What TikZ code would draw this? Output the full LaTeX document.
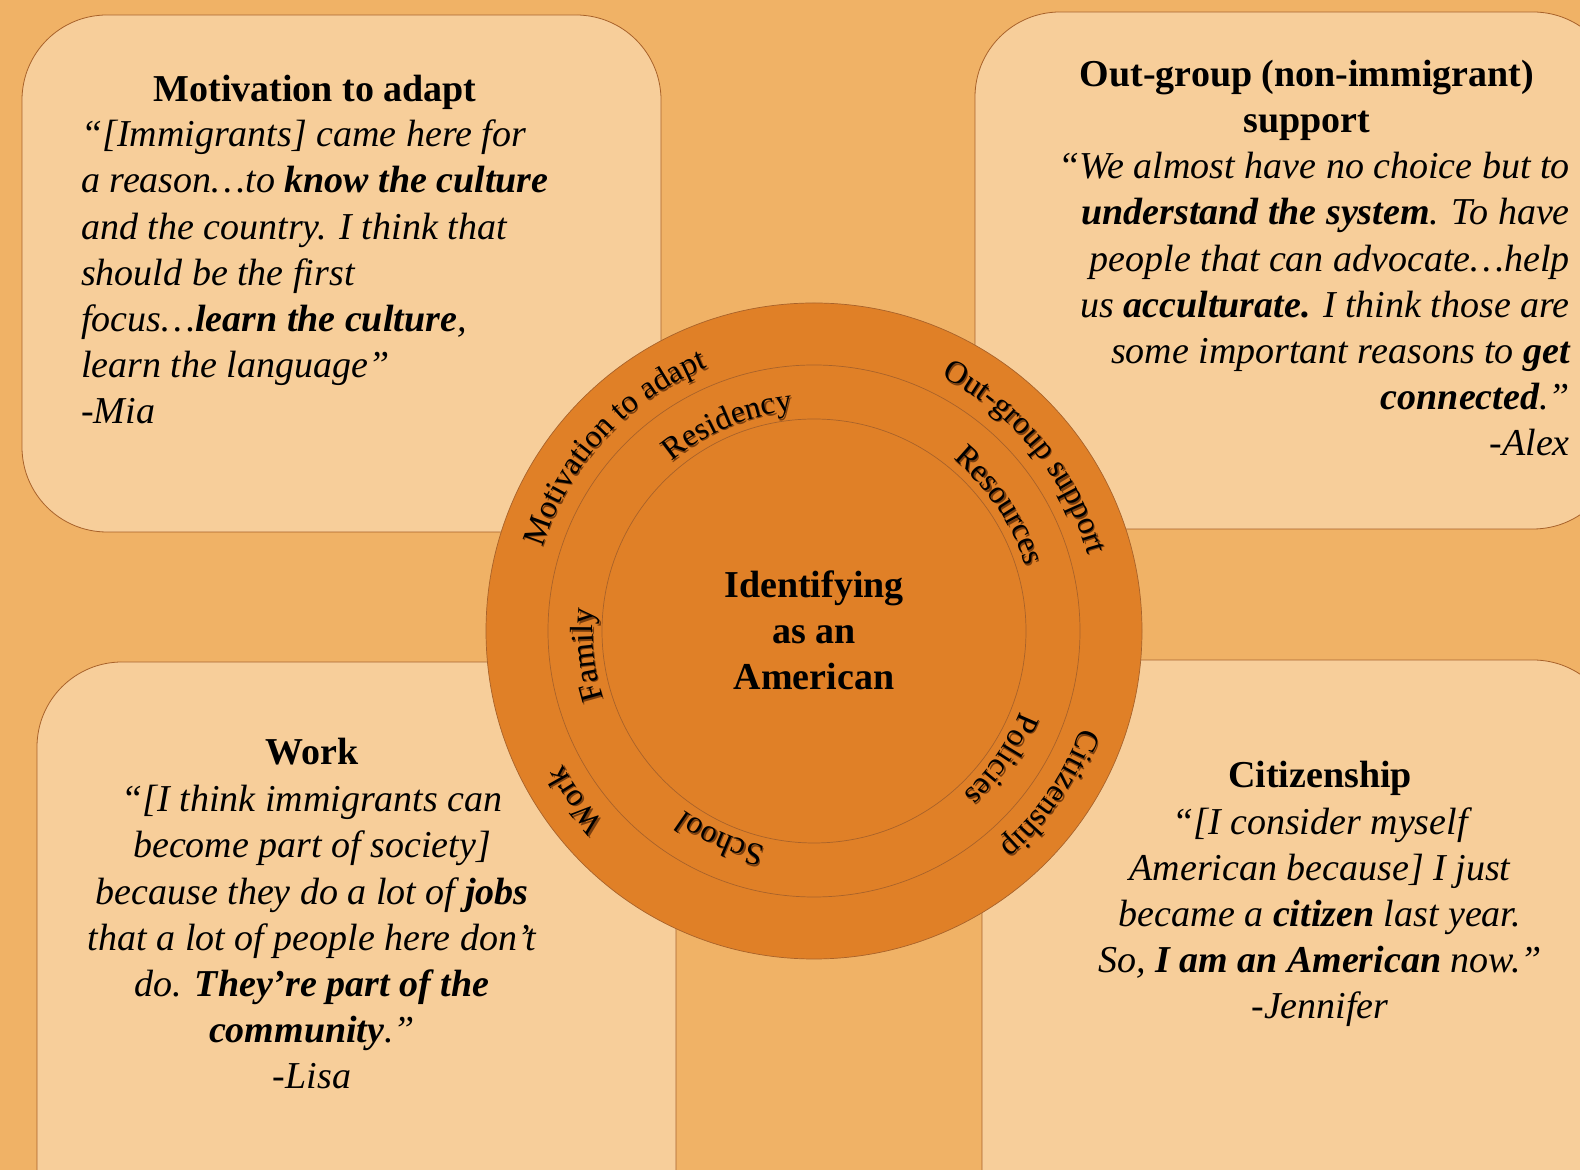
\documentclass[tikz,border=0pt]{standalone}
\usepackage{fontspec}
\setmainfont{Liberation Serif}
\usetikzlibrary{decorations.text}
\definecolor{bgc}{HTML}{F0B266}
\definecolor{boxc}{HTML}{F7CE9A}
\definecolor{circc}{HTML}{E08027}
\definecolor{edgec}{HTML}{A8622A}
\definecolor{shadc}{HTML}{7A3E0E}
\newcommand\ringfont{\fontsize{32}{32}\selectfont}
\newcommand\ringtext[3]{%
  \path[decorate, decoration={text along path, text align=center,
      text={|\ringfont\color{shadc}|#3}}]
    ([shift={(1.3,-1.6)}]#1+60:#2) arc[start angle=#1+60, end angle=#1-60, radius=#2];
  \path[decorate, decoration={text along path, text align=center,
      text={|\ringfont|#3}}]
    (#1+60:#2) arc[start angle=#1+60, end angle=#1-60, radius=#2];}
\begin{document}
\begin{tikzpicture}[x=1pt,y=1pt,
  panel/.style={fill=boxc, draw=edgec, line width=0.8pt, rounded corners=85pt},
  body/.style={font=\fontsize{38}{46.2}\selectfont\itshape, inner sep=0pt},
  ttl/.style={font=\fontsize{38}{46.2}\selectfont\bfseries, inner sep=0pt},
  ring/.style={draw=edgec, line width=0.7pt}]
\useasboundingbox (0,0) rectangle (1580,1170);
\clip (0,0) rectangle (1580,1170);
\fill[bgc] (0,0) rectangle (1580,1170);
% panels
\draw[panel] (22,638) rectangle (661,1155);
\draw[panel] (975,641) rectangle (1618,1158);
\draw[panel] (37,-100) rectangle (676,508);
\draw[panel] (982,-100) rectangle (1618,510);
% circle
\coordinate (ctr) at (814,539);
\draw[ring, fill=circc] (ctr) circle[radius=328];
\draw[ring] (ctr) circle[radius=266];
\draw[ring] (ctr) circle[radius=212];
\begin{scope}[shift={(814,539)}]
  \ringtext{137.4}{284}{Motivation to adapt}
  \ringtext{39.5}{284}{Out-group support}
  \ringtext{-34.6}{284}{Citizenship}
  \ringtext{-144.7}{284}{Work}
  \ringtext{112.8}{221}{Residency}
  \ringtext{34}{221}{Resources}
  \ringtext{186}{221}{Family}
  \ringtext{-114.3}{221}{School}
  \ringtext{-34.4}{221}{Policies}
\end{scope}
% multi-line nodes: base anchor = baseline of last line
\node[ttl, align=center, anchor=base] (core) at (814,480) {Identifying\\as an\\American};
% top left
\node[ttl, anchor=base] (tltitle) at (315,1068) {Motivation to adapt};
\node[body, anchor=base west, align=left] (tlbody) at (81,746) {%
“[Immigrants] came here for\\
a reason…to \textbf{know the culture}\\
and the country. I think that\\
should be the first\\
focus…\textbf{learn the culture},\\
learn the language”\\
-Mia};
% top right
\node[ttl, anchor=base, align=center] (trtitle) at (1307,1037) {Out-group (non-immigrant)\\support};
\node[body, anchor=base east, align=right] (trbody) at (1570,714) {%
“We almost have no choice but to\\
\textbf{understand the system}. To have\\
people that can advocate…help\\
us \textbf{acculturate.} I think those are\\
some important reasons to \textbf{get}\\
\textbf{connected}.”\\
-Alex};
% bottom left
\node[ttl, anchor=base] (bltitle) at (312,405) {Work};
\node[body, anchor=base, align=center] (blbody) at (312,81) {%
“[I think immigrants can\\
become part of society]\\
because they do a lot of \textbf{jobs}\\
that a lot of people here don’t\\
do. \textbf{They’re part of the}\\
\textbf{community}.”\\
-Lisa};
% bottom right
\node[ttl, anchor=base] (brtitle) at (1320,382) {Citizenship};
\node[body, anchor=base, align=center] (brbody) at (1320,151) {%
“[I consider myself\\
American because] I just\\
became a \textbf{citizen} last year.\\
So, \textbf{I am an American} now.”\\
-Jennifer};
\end{tikzpicture}
\end{document}
